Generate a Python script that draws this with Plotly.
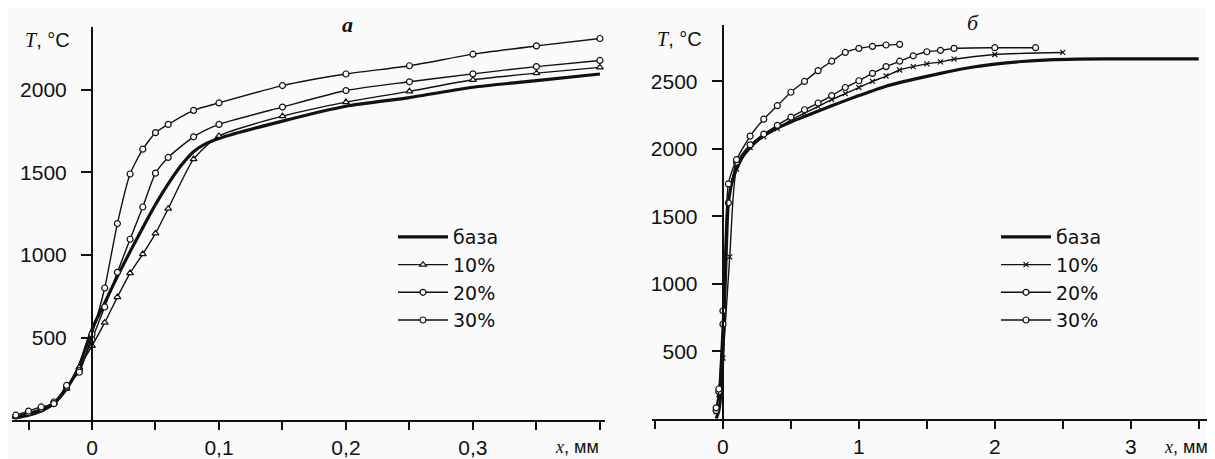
import plotly.graph_objects as go

# ---- panel a data (x in mm, T in °C) ----
xa_base = [-0.06, -0.05, -0.04, -0.03, -0.02, -0.01, 0, 0.01, 0.02, 0.03, 0.04, 0.05, 0.06, 0.07, 0.08, 0.09, 0.1,
           0.15, 0.2, 0.25, 0.3, 0.35, 0.4]
Ta_base = [15, 30, 55, 100, 190, 330, 550, 710, 870, 1020, 1165, 1305, 1430, 1540, 1625, 1675, 1705,
           1810, 1900, 1952, 2015, 2055, 2095]
xa_pts = [-0.06, -0.05, -0.04, -0.03, -0.02, -0.01, 0, 0.01, 0.02, 0.03, 0.04, 0.05, 0.06, 0.08, 0.1,
          0.15, 0.2, 0.25, 0.3, 0.35, 0.4]
Ta_10 = [20, 40, 65, 105, 190, 320, 450, 590, 745, 890, 1005, 1130, 1280, 1580, 1720,
         1840, 1925, 1990, 2060, 2100, 2135]
Ta_20 = [25, 45, 70, 110, 200, 300, 490, 685, 895, 1095, 1290, 1495, 1590, 1715, 1790,
         1895, 1995, 2048, 2096, 2140, 2177]
Ta_30 = [30, 55, 80, 100, 210, 290, 520, 800, 1190, 1490, 1640, 1740, 1790, 1875, 1920,
         2025, 2095, 2145, 2215, 2265, 2310]

# ---- panel б data ----
xb_base = [-0.05, -0.03, -0.01, 0, 0.01, 0.02, 0.04, 0.08, 0.15, 0.25, 0.35, 0.5, 0.6, 0.8, 1.0, 1.2,
           1.4, 1.6, 1.8, 2.0, 2.2, 2.4, 2.6, 3.0, 3.5]
Tb_base = [0, 60, 250, 500, 800, 1100, 1600, 1800, 1950, 2060, 2130, 2200, 2240, 2320, 2395, 2465,
           2515, 2560, 2600, 2628, 2648, 2660, 2665, 2668, 2668]
xb_10 = [-0.05, -0.03, 0, 0.05, 0.1, 0.2, 0.3, 0.4, 0.5, 0.6, 0.7, 0.8, 0.9, 1.0, 1.1, 1.2, 1.3, 1.4,
         1.5, 1.6, 1.7, 2.0, 2.5]
Tb_10 = [50, 180, 450, 1200, 1850, 2010, 2090, 2150, 2215, 2265, 2315, 2365, 2410, 2455, 2500, 2540,
         2585, 2610, 2630, 2645, 2665, 2700, 2715]
xb_20 = [-0.05, -0.03, 0, 0.04, 0.1, 0.2, 0.3, 0.4, 0.5, 0.6, 0.7, 0.8, 0.9, 1.0, 1.1, 1.2, 1.3, 1.4,
         1.5, 1.6, 1.7, 2.0, 2.3]
Tb_20 = [60, 200, 700, 1600, 1900, 2030, 2110, 2175, 2235, 2290, 2340, 2395, 2455, 2505, 2560, 2610,
         2650, 2690, 2720, 2730, 2745, 2750, 2750]
xb_30 = [-0.05, -0.03, 0, 0.04, 0.1, 0.2, 0.3, 0.4, 0.5, 0.6, 0.7, 0.8, 0.9, 1.0, 1.1, 1.2, 1.3]
Tb_30 = [80, 220, 800, 1740, 1920, 2095, 2220, 2320, 2420, 2500, 2580, 2650, 2715, 2745, 2760, 2770, 2775]

names = ["база", "10%", "20%", "30%"]

# ticks
xa_ticks = [-0.05, 0, 0.05, 0.1, 0.15, 0.2, 0.25, 0.3, 0.35, 0.4]
xa_ticktext = ["", "0", "", "0,1", "", "0,2", "", "0,3", "", ""]
xb_ticks = [-0.5, 0, 0.5, 1, 1.5, 2, 2.5, 3, 3.5]
xb_ticktext = ["", "0", "", "1", "", "2", "", "3", ""]
ya_ticks = [500, 1000, 1500, 2000]
yb_ticks = [500, 1000, 1500, 2000, 2500]

OFF = 8  # page body margin
W, H = 1215 - OFF, 459 - OFF
BG = "#fafafa"
INK = "#111111"
SANS = "Liberation Sans"
LEGSANS = "DejaVu Sans"
SERIF = "Liberation Serif"


def fx(px):
    return (px - OFF) / W


def fy(py):
    return 1 - (py - OFF) / H


fig = go.Figure()


def add_panel(xa, ya, legend, series):
    for name, xs, ys, sym, msize, lw in series:
        mode = "lines" if sym is None else "lines+markers"
        fill = INK if sym and "x" in sym else BG
        fig.add_trace(go.Scatter(
            x=xs, y=ys, name=name, mode=mode, xaxis=xa, yaxis=ya, legend=legend,
            line=dict(color=INK, width=lw, shape="spline", smoothing=0.6),
            marker=dict(symbol=sym or "circle", size=msize, color=fill,
                        line=dict(color=INK, width=1.2)),
        ))


add_panel("x", "y", "legend", [
    (names[0], xa_base, Ta_base, None, 0, 3.2),
    (names[1], xa_pts, Ta_10, "triangle-up", 6, 1.4),
    (names[2], xa_pts, Ta_20, "circle", 6, 1.4),
    (names[3], xa_pts, Ta_30, "circle", 6, 1.4),
])
add_panel("x2", "y2", "legend2", [
    (names[0], xb_base, Tb_base, None, 0, 3.2),
    (names[1], xb_10, Tb_10, "x-thin", 5, 1.4),
    (names[2], xb_20, Tb_20, "circle", 6, 1.4),
    (names[3], xb_30, Tb_30, "circle", 6, 1.4),
])

tickfont = dict(family=SANS, size=21, color=INK)
common_x = dict(showline=True, linecolor=INK, linewidth=2, ticks="outside", ticklen=8, tickwidth=1.6,
                tickcolor=INK, showgrid=False, zeroline=False, tickfont=tickfont, tickmode="array")
common_y = dict(showline=True, linecolor=INK, linewidth=2, ticks="outside", ticklen=10, tickwidth=1.6,
                tickcolor=INK, showgrid=False, zeroline=False, tickfont=tickfont, tickmode="array",
                anchor="free", ticklabelstandoff=10)

legfont = dict(family=LEGSANS, size=19, color=INK)
fig.update_layout(
    width=W, height=H,
    margin=dict(l=0, r=0, t=0, b=0),
    paper_bgcolor=BG, plot_bgcolor="rgba(0,0,0,0)",
    xaxis=dict(domain=[fx(12), fx(605)], range=[-0.063, 0.404], anchor="y",
               tickvals=xa_ticks, ticktext=xa_ticktext, **common_x),
    yaxis=dict(domain=[fy(422), fy(27)], range=[0, 2380], position=fx(92),
               tickvals=ya_ticks, **common_y),
    xaxis2=dict(domain=[fx(652), fx(1212)], range=[-0.522, 3.598], anchor="y2",
                tickvals=xb_ticks, ticktext=xb_ticktext, **common_x),
    yaxis2=dict(domain=[fy(420.5), fy(25)], range=[0, 2919], position=fx(722.7),
                tickvals=yb_ticks, **common_y),
    legend=dict(x=fx(393), y=fy(219), xanchor="left", yanchor="top", bgcolor="rgba(0,0,0,0)",
                font=legfont, tracegroupgap=0, itemwidth=50),
    legend2=dict(x=fx(996), y=fy(219), xanchor="left", yanchor="top", bgcolor="rgba(0,0,0,0)",
                 font=legfont, tracegroupgap=0, itemwidth=50),
    showlegend=True,
)


def ann(text, px, py, size=20, family=SANS, xanchor="center"):
    fig.add_annotation(text=text, x=fx(px), y=fy(py), xref="paper", yref="paper",
                       showarrow=False, xanchor=xanchor, yanchor="middle",
                       font=dict(family=family, size=size, color=INK))


tlabel = f"<span style='font-family:{SERIF}'><i>T</i></span>, °C"
xlabel = f"<span style='font-family:{SERIF}'><i>x</i></span>, мм"
ann(tlabel, 47, 40, size=20)
ann(tlabel, 679, 39, size=20)
ann(xlabel, 577, 449, size=18)
ann(xlabel, 1186, 449, size=18)
ann("<b><i>a</i></b>", 347, 25, size=22, family=SERIF)
ann("<i>б</i>", 973, 23, size=22, family=SERIF)

fig.write_html("out.html")
